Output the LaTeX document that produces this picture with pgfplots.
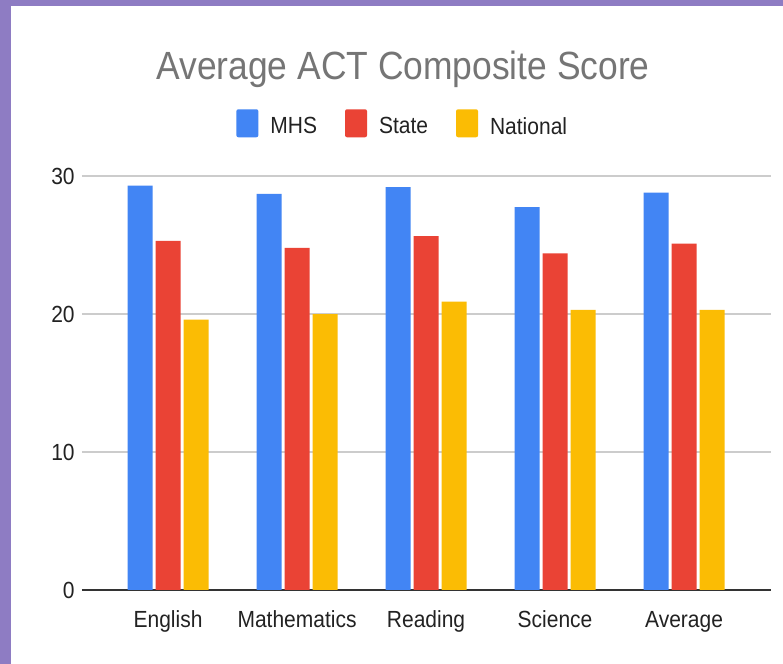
\documentclass[border=0pt]{standalone}
\usepackage{pgfplots}
\pgfplotsset{compat=1.18}
\usepackage{fontspec}
\setmainfont{Liberation Sans}[FakeStretch=0.9]
\definecolor{mhs}{HTML}{4285F4}
\definecolor{state}{HTML}{EA4335}
\definecolor{natl}{HTML}{FBBC04}
\definecolor{frame}{HTML}{8E7CC3}
\definecolor{titlegray}{HTML}{757575}
\definecolor{labelgray}{HTML}{222222}
\begin{document}
\begin{tikzpicture}
% page background: purple frame, white card (1px = 0.75pt, axis origin at px 82,590)
\begin{scope}[x=0.75pt,y=0.75pt]
\fill[frame] (-82,-74) rectangle (701,590);
\fill[white] (-71,-74) rectangle (701,584);
\end{scope}
\begin{axis}[
  at={(0,0)}, anchor=south west,
  scale only axis,
  width=516.75pt, height=310.5pt,
  xmin=-0.667, xmax=4.674,
  ymin=0, ymax=30,
  clip=false,
  ytick={10,20,30},
  extra y ticks={0},
  extra y tick style={grid style={draw=black!80, line width=1.4pt}},
  ymajorgrids,
  grid style={draw=black!20, line width=1.1pt},
  axis line style={draw=none},
  tick style={draw=none},
  xtick={0,1,2,3,4},
  xticklabels={English,Mathematics,Reading,Science,Average},
  ticklabel style={font=\fontsize{17.5}{20}\selectfont, text=labelgray},
  xticklabel style={anchor=base, yshift=-23.5pt},
  yticklabel style={anchor=east, xshift=-2pt},
  /pgf/number format/assume math mode=true,
  ybar, bar width=0.194,
  legend columns=3,
  legend style={at={(0.466,1.1256)}, anchor=center, draw=none, fill=none,
    font=\fontsize{17.5}{20}\selectfont, text=labelgray,
    /tikz/every odd column/.append style={column sep=7pt},
    /tikz/every even column/.append style={column sep=19pt}},
  legend image code/.code={\fill[#1, draw=none, rounded corners=1.5pt] (0pt,-8pt) rectangle (16.5pt,13pt);},
]
\addplot[fill=mhs, draw=none, bar shift=-0.217] coordinates {(0,29.3) (1,28.7) (2,29.2) (3,27.75) (4,28.8)};
\addlegendentry{MHS}
\addplot[fill=state, draw=none, bar shift=0] coordinates {(0,25.3) (1,24.8) (2,25.65) (3,24.4) (4,25.1)};
\addlegendentry{State}
\addplot[fill=natl, draw=none, bar shift=0.217] coordinates {(0,19.6) (1,20.0) (2,20.9) (3,20.3) (4,20.3)};
\addlegendentry{National}
\node[anchor=base, text=titlegray, font=\fontsize{29.5}{34}\selectfont]
  at (axis description cs:0.466,1.232) {Average ACT Composite Score};
\end{axis}
\end{tikzpicture}
\end{document}
